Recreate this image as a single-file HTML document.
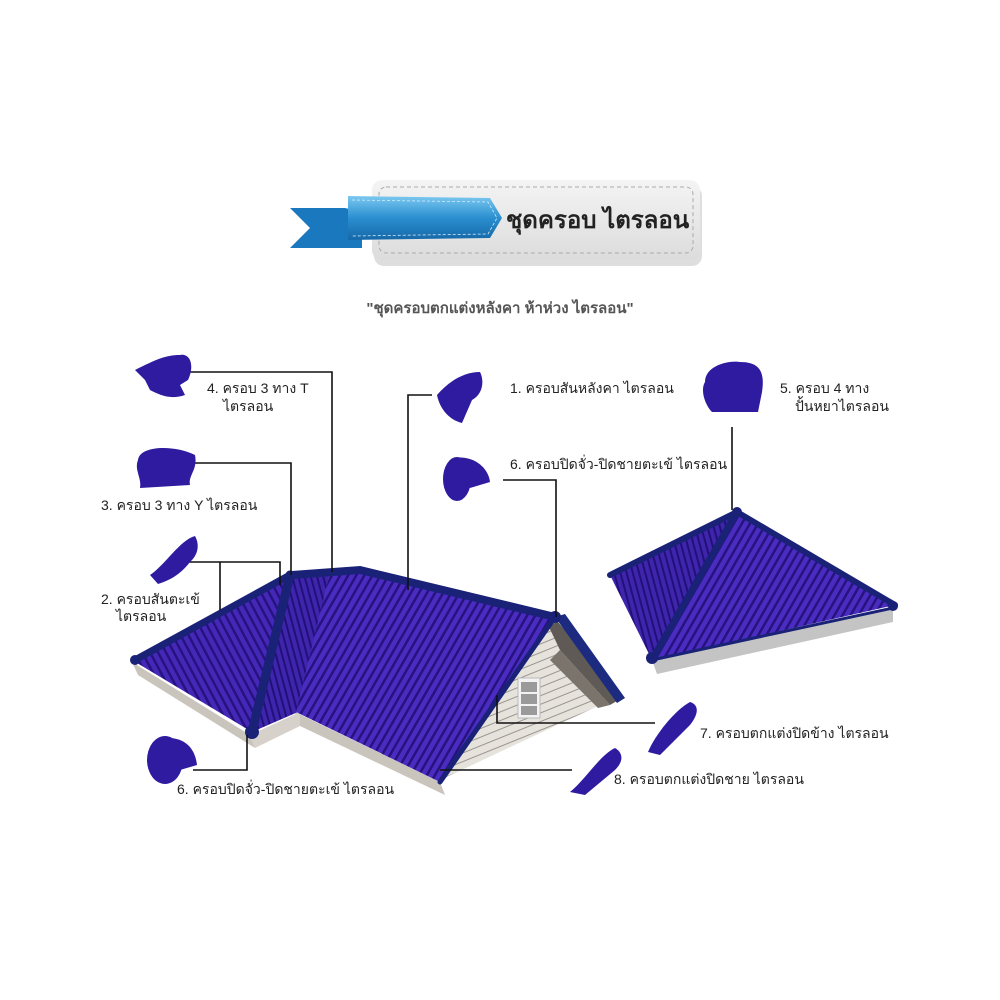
<!DOCTYPE html>
<html><head><meta charset="utf-8">
<style>
html,body{margin:0;padding:0;background:#fff;}
svg{display:block;}
text{font-family:"Liberation Sans","Noto Sans CJK SC",sans-serif;}
</style></head>
<body>
<svg width="1000" height="1000" viewBox="0 0 1000 1000" xmlns="http://www.w3.org/2000/svg">
<defs>
  <pattern id="s1" width="7" height="7" patternUnits="userSpaceOnUse" patternTransform="rotate(-28)">
    <rect width="7" height="7" fill="#4528b8"/><rect width="2.5" height="7" fill="#261380"/>
  </pattern>
  <pattern id="s2" width="7" height="7" patternUnits="userSpaceOnUse" patternTransform="rotate(30)">
    <rect width="7" height="7" fill="#4a2cc0"/><rect width="2.5" height="7" fill="#261380"/>
  </pattern>
  <pattern id="s3" width="6" height="6" patternUnits="userSpaceOnUse" patternTransform="rotate(-15)">
    <rect width="6" height="6" fill="#3f24ac"/><rect width="2" height="6" fill="#22107a"/>
  </pattern>
  <pattern id="wall" width="10" height="8" patternUnits="userSpaceOnUse" patternTransform="rotate(-22)">
    <rect width="10" height="8" fill="#e6e2dc"/><rect y="7" width="10" height="1" fill="#9a958e"/>
  </pattern>
  <linearGradient id="rib" x1="0" y1="0" x2="0" y2="1">
    <stop offset="0" stop-color="#7cc8f0"/><stop offset="0.5" stop-color="#2a8fd0"/><stop offset="1" stop-color="#1668a8"/>
  </linearGradient>
  <linearGradient id="card" x1="0" y1="0" x2="0" y2="1">
    <stop offset="0" stop-color="#f4f4f4"/><stop offset="1" stop-color="#dcdcdc"/>
  </linearGradient>
</defs>

<!-- Banner -->
<rect x="374" y="186" width="328" height="80" rx="10" fill="#c8c8c8" opacity="0.6"/>
<rect x="372" y="180" width="328" height="80" rx="10" fill="url(#card)"/>
<rect x="379" y="187" width="314" height="66" rx="7" fill="none" stroke="#aaa" stroke-dasharray="4 3"/>
<polygon points="290,208 345,208 362,212 362,248 290,248 310,228" fill="#1a78bf"/>
<polygon points="348,196 490,198 502,218 490,238 348,240" fill="url(#rib)"/>
<path d="M352,200 L488,202 L497,218 L488,234 L352,236" fill="none" stroke="#cfeaff" stroke-dasharray="3 2" stroke-width="0.8"/>
<text x="506" y="228" font-size="24" font-weight="bold" fill="#222">ชุดครอบ ไตรลอน</text>
<text x="500" y="313" font-size="15" font-weight="bold" fill="#555" text-anchor="middle">"ชุดครอบตกแต่งหลังคา ห้าห่วง ไตรลอน"</text>

<!-- Main roof fascia -->
<polygon points="132,662 250,735 255,748 138,675" fill="#c9c4bc"/>
<polygon points="295,712 440,782 445,795 300,726" fill="#c9c4bc"/>
<polygon points="250,735 300,712 300,726 255,748" fill="#d6d2cb"/>
<!-- Gable wall -->
<polygon points="550,628 440,780 615,698" fill="url(#wall)"/>
<polygon points="548,625 558,622 622,698 610,705 560,650" fill="#5f5a55"/>
<polygon points="560,650 610,705 598,708 550,660" fill="#7a746d"/>
<rect x="518" y="678" width="22" height="40" fill="#f2f2f2" stroke="#bbb"/>
<rect x="521" y="682" width="16" height="10" fill="#9a9a9a"/>
<rect x="521" y="694" width="16" height="10" fill="#9a9a9a"/>
<rect x="521" y="706" width="16" height="9" fill="#9a9a9a"/>
<!-- Faces -->
<polygon points="132,660 290,575 252,732" fill="url(#s1)"/>
<polygon points="290,575 330,572 298,712 252,732" fill="url(#s3)"/>
<polygon points="330,572 360,570 555,617 440,782 296,712" fill="url(#s2)"/>
<polygon points="555,617 565,614 625,698 617,703" fill="#1c2a80"/>
<!-- ridges -->
<g stroke="#1a2278" stroke-linecap="round" fill="none">
<path d="M135,660 L290,575" stroke-width="7"/>
<path d="M290,575 L252,732" stroke-width="9"/>
<path d="M292,575 L360,570 L555,617" stroke-width="8"/>
<path d="M555,617 L440,782" stroke-width="5"/>
</g>
<circle cx="135" cy="660" r="5" fill="#1a2278"/>
<circle cx="252" cy="732" r="7" fill="#1a2278"/>
<circle cx="555" cy="617" r="6" fill="#1a2278"/>

<!-- Right pyramid -->
<polygon points="652,660 893,608 893,622 657,674" fill="#c4c4c4"/>
<polygon points="610,575 737,512 652,660" fill="url(#s3)"/>
<polygon points="737,512 895,605 652,660" fill="url(#s2)"/>
<g stroke="#1a2278" stroke-linecap="round" fill="none">
<path d="M610,575 L737,512 L895,605" stroke-width="6"/>
<path d="M737,512 L652,660" stroke-width="7"/>
<path d="M652,660 L893,608" stroke-width="3"/>
</g>
<circle cx="737" cy="512" r="5" fill="#1a2278"/>
<circle cx="652" cy="658" r="6" fill="#1a2278"/>
<circle cx="893" cy="606" r="5" fill="#1a2278"/>

<!-- Connectors -->
<g stroke="#111" stroke-width="1.6" fill="none">
<path d="M190,372 H332 V572"/>
<path d="M195,463 H291 V575"/>
<path d="M188,562 H280 V585 M220,562 V610"/>
<path d="M432,395 H408 V590"/>
<path d="M503,480 H556 V617"/>
<path d="M732,427 V510"/>
<path d="M497,695 V723 H655"/>
<path d="M440,770 H572"/>
<path d="M247,735 V770 H193"/>
</g>

<!-- Piece icons -->
<g fill="#2e1ba0">
<path d="M135,370 C155,360 165,355 180,355 C190,353 195,365 188,380 L180,385 L185,395 C170,400 160,395 150,390 L145,380 Z"/>
<path d="M138,460 C140,445 175,445 195,455 C198,470 188,475 190,485 L140,488 C142,478 134,470 138,460 Z"/>
<path d="M150,575 C165,565 180,540 195,536 C200,545 198,555 190,562 C180,575 170,580 158,584 Z"/>
<path d="M437,395 C450,380 465,372 480,372 C485,382 482,395 472,400 L462,423 C450,420 440,410 437,395 Z"/>
<ellipse cx="457" cy="479" rx="14" ry="22"/><path d="M455,458 C470,455 488,465 490,482 L470,488 Z"/>
<path d="M705,382 C705,365 730,360 740,362 C760,362 765,372 762,392 L758,412 L712,412 C705,405 700,390 705,382 Z"/>
<path d="M648,752 C655,735 675,710 690,702 C700,705 698,715 690,725 L670,745 L660,755 Z"/>
<path d="M570,792 C585,780 600,755 615,748 C622,752 625,760 615,770 L585,795 Z"/>
<ellipse cx="165" cy="760" rx="18" ry="24"/><path d="M168,738 C185,738 195,748 197,765 L180,770 Z"/>
</g>

<!-- Labels -->
<g font-size="14" fill="#222">
<text x="207" y="393">4. ครอบ 3 ทาง T</text>
<text x="223" y="411">ไตรลอน</text>
<text x="101" y="510">3. ครอบ 3 ทาง Y ไตรลอน</text>
<text x="101" y="604">2. ครอบสันตะเข้</text>
<text x="116" y="621">ไตรลอน</text>
<text x="510" y="393">1. ครอบสันหลังคา ไตรลอน</text>
<text x="510" y="469">6. ครอบปิดจั่ว-ปิดชายตะเข้ ไตรลอน</text>
<text x="780" y="393">5. ครอบ 4 ทาง</text>
<text x="795" y="411">ปั้นหยาไตรลอน</text>
<text x="700" y="738">7. ครอบตกแต่งปิดข้าง ไตรลอน</text>
<text x="614" y="784">8. ครอบตกแต่งปิดชาย ไตรลอน</text>
<text x="177" y="794">6. ครอบปิดจั่ว-ปิดชายตะเข้ ไตรลอน</text>
</g>
</svg>
</body></html>
